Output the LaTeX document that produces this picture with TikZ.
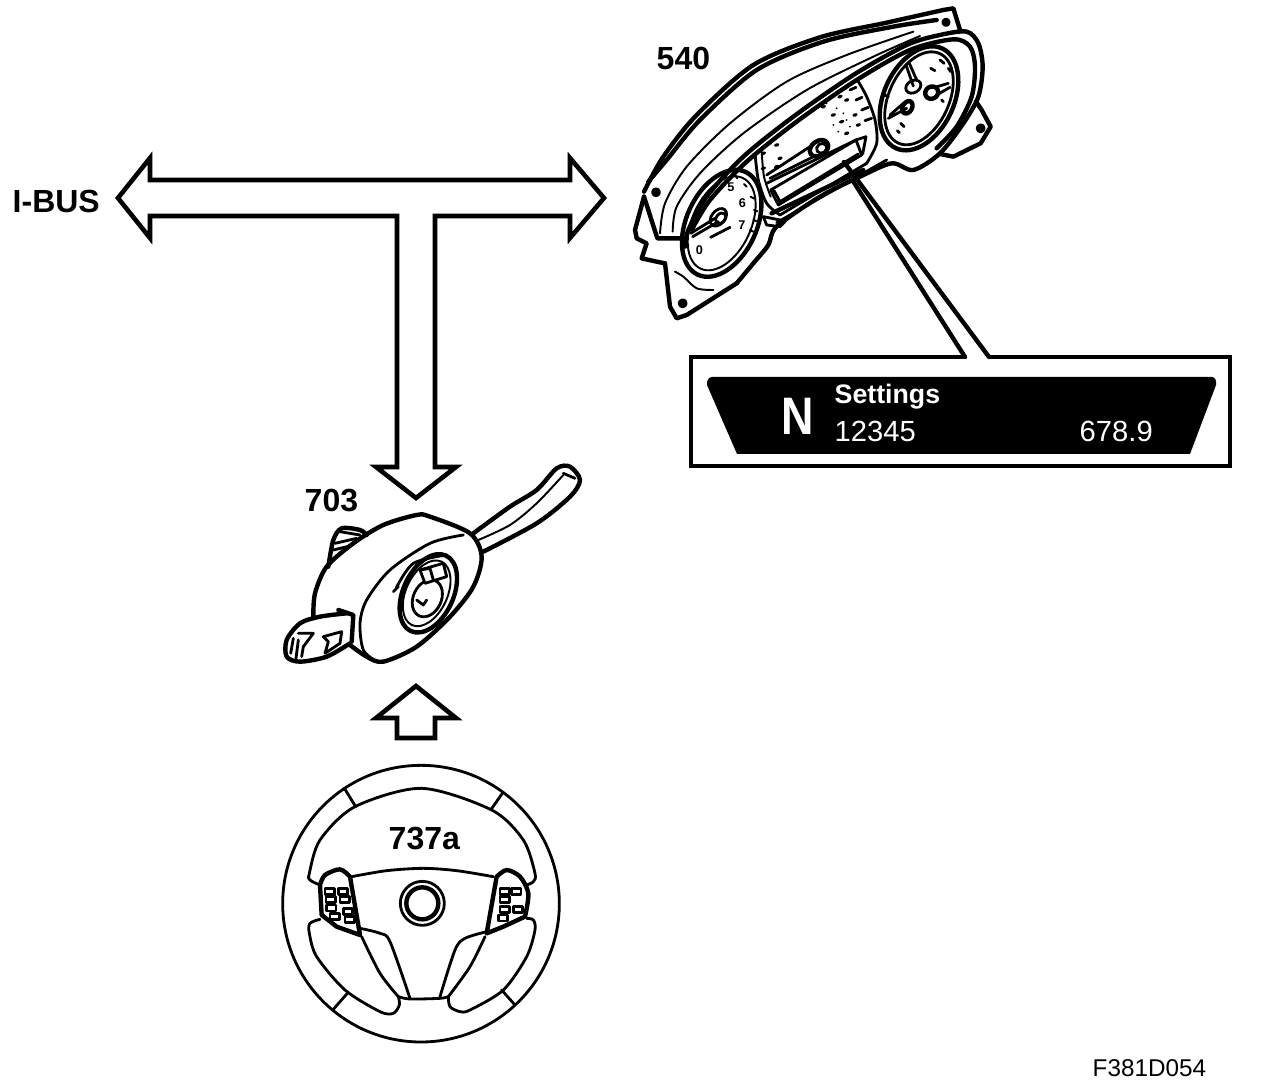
\documentclass[tikz,border=0pt]{standalone}
\usepackage{fontspec}
\setmainfont{Liberation Sans}
\tikzset{
  thk/.style={line width=1.25pt,line join=round,line cap=round},
  med/.style={line width=.8pt,line join=round,line cap=round},
  thn/.style={line width=.55pt,line join=round,line cap=round},
  arrowln/.style={line width=1.3pt,line join=miter},
  partno/.style={font=\fontsize{9.1}{10}\selectfont\bfseries,inner sep=0pt},
  dispno/.style={font=\fontsize{8.3}{9}\selectfont,text=white,inner sep=0pt,anchor=base west},
  dialno/.style={inner sep=0pt,font=\fontsize{3.6}{4}\selectfont\bfseries}
}
\begin{document}
\begin{tikzpicture}[x=.01cm,y=-.01cm]
  \useasboundingbox (0,0) rectangle (1264,1092);
  % bus arrow
  \coordinate (bl) at (118,198);
  \coordinate (blt) at (150,158);
  \coordinate (bls) at (150,180);
  \coordinate (brs) at (570,180);
  \coordinate (brt) at (570,158);
  \coordinate (br) at (604,198);
  \coordinate (brb) at (570,238);
  \coordinate (bri) at (570,216);
  \coordinate (sr) at (435,216);
  \coordinate (srb) at (435,467);
  \coordinate (hr) at (456,467);
  \coordinate (tip) at (416,498);
  \coordinate (hl) at (376,467);
  \coordinate (slb) at (397,467);
  \coordinate (sl) at (397,216);
  \coordinate (bli) at (150,216);
  \coordinate (blb) at (150,238);
  \draw[arrowln] (bl)--(blt)--(bls)--(brs)--(brt)--(br)--(brb)--(bri)--(sr)--(srb)--(hr)--(tip)--(hl)--(slb)--(sl)--(bli)--(blb)--cycle;
  % small arrow
  \coordinate (ut) at (416,686);
  \coordinate (ur) at (456,718);
  \coordinate (urs) at (435,718);
  \coordinate (urb) at (435,738);
  \coordinate (ulb) at (397,738);
  \coordinate (uls) at (397,718);
  \coordinate (ul) at (376,718);
  \draw[arrowln] (ut)--(ur)--(urs)--(urb)--(ulb)--(uls)--(ul)--cycle;
  % labels
  \node[partno,anchor=west] (ibus) at (12,201) {I-BUS};
  \node[partno,anchor=west] (n540) at (656,58) {540};
  \node[partno,anchor=west] (n703) at (304,501) {703};
  \node[partno,anchor=west] (n737) at (388,839) {737a};
  \node[anchor=west,inner sep=0pt,font=\fontsize{6.9}{8}\selectfont] (fig) at (1092,1068) {F381D054};
  % display box
  \coordinate (dt1) at (965,357);
  \coordinate (dt2) at (989,357);
  \coordinate (ctip) at (844,162);
  \draw[thk,line cap=butt,line join=miter] (dt1)--(691,357)--(691,466)--(1230,466)--(1230,357)--(dt2);
  \draw[thk] (dt1)--(853,181);
  \draw[thk] (dt2)--(ctip);
  \fill (712,377)--(1212,377) to[out=0,in=80] (1216,385)--(1190,454)--(737,454)--(707,385) to[out=100,in=180] cycle;
  \node[text=white,inner sep=0pt,anchor=base west,xscale=.85,font=\fontsize{15}{16}\selectfont\bfseries] (gear) at (781,435) {N};
  \node[dispno,font=\fontsize{7.6}{9}\selectfont\bfseries] (menu) at (834,404) {Settings};
  \node[dispno] (odo) at (834,442) {12345};
  \node[dispno] (trip) at (1079,442) {678.9};
  % cluster
  \begin{scope}[shift={(620,0)},scale=1/3]
    \draw[thk] plot[smooth] coordinates {(72,575)(130,470)(230,345)(400,195)(600,112)(800,68)(970,30)} -- (1000,25) -- (1020,90);
    \draw[thk] plot[smooth] coordinates {(85,545)(140,480)(240,360)(410,210)(610,125)(820,80)(950,60)};
    \draw[thn] plot[smooth] coordinates {(120,700)(135,610)(200,500)(330,370)(500,245)(680,165)(880,95)};
    \draw[thn] plot[smooth] coordinates {(158,695)(170,620)(240,520)(370,400)(560,270)(760,170)(900,108)};
    \draw[thk] (72,590)--(112,715)--(192,715);
    \draw[thk] plot[smooth] coordinates {(195,740)(205,690)(260,590)(370,470)(520,350)(700,225)(860,135)(960,105)(1040,95)(1075,130)(1088,200)(1075,290)(1030,370)(960,460)(880,510)(815,490)(720,530)(600,590)(470,680)(445,735)(400,790)(350,850)};
    \draw[thk] plot[smooth] coordinates {(215,690)(270,600)(380,485)(530,365)(710,240)(870,150)(1000,118)(1050,140)(1065,200)(1055,290)(1010,380)(950,445)};
    \draw[thk] (350,850)--(200,945)--(170,955)--(150,920)--(135,790);
    \draw[thk] (72,590)--(45,690)--(50,715)--(80,730)--(65,775)--(110,785)--(135,790);
    \draw[thk] (1068,305)--(1085,330)--(1112,380)--(1082,430)--(1000,470)--(960,462);
    \draw[thn] plot[smooth] coordinates {(165,815)(190,830)(230,865)(280,870)};
    % gauges
    \draw[thk] (305,670) ellipse[x radius=170,y radius=105,rotate=65];
    \draw[thn] (305,670) ellipse[x radius=150,y radius=88,rotate=65];
    \draw[thk] (897,295) ellipse[x radius=165,y radius=105,rotate=65];
    \draw[med] (897,295) ellipse[x radius=148,y radius=90,rotate=65];
    \draw[med] (212,700)--(285,655) (218,710)--(295,665);
    \draw[med] (295,652) ellipse[x radius=30,y radius=20,rotate=50];
    \draw[med] (302,655) ellipse[x radius=18,y radius=13,rotate=50];
    \draw[med] (272,712)--(330,682);
    \node[dialno] (lg0) at (238,750) {0};
    \node[dialno] (lg5) at (333,562) {5};
    \node[dialno] (lg6) at (367,608) {6};
    \node[dialno] (lg7) at (366,675) {7};
    \foreach \xa/\ya/\xb/\yb in {345/525/352/535, 372/552/380/560, 392/590/402/596, 402/630/412/634, 400/660/410/664, 390/690/400/695}
      \draw[thn] (\xa,\ya)--(\xb,\yb);
    \draw[med] (805,355)--(860,325) (810,345)--(850,310);
    \draw[thk] (862,322) ellipse[x radius=20,y radius=14,rotate=60];
    \draw[med] (880,260) ellipse[x radius=24,y radius=18,rotate=30];
    \draw[med] (880,258)--(858,195) (890,240)--(868,190);
    \draw[thk] (935,278) ellipse[x radius=20,y radius=18,rotate=30];
    \draw[med] (945,262)--(985,250) (950,285)--(990,262);
    \foreach \xa/\ya/\xb/\yb in {842/370/852/380, 832/392/838/398, 960/180/972/190, 985/205/992/215, 932/205/945/212, 965/300/970/305, 795/285/805/290}
      \draw[med] (\xa,\ya)--(\xb,\yb);
    % centre dial
    \draw[med] plot[smooth] coordinates {(405,460)(415,540)(440,610)(480,645)};
    \draw[thn] plot[smooth] coordinates {(425,455)(432,530)(452,590)};
    \draw[med] (480,645)--(740,490);
    \draw[med] plot[smooth] coordinates {(740,490)(770,430)(765,360)(740,290)(715,245)};
    \draw[med] (452,570)--(475,615)--(725,465)--(708,420)--cycle;
    \draw[med] (462,572)--(480,605)--(715,462);
    \draw[med] (728,462)--(738,410)--(708,420);
    \draw[med] (440,550)--(708,420);
    \draw[med] (440,525)--(570,440) (450,535)--(590,465);
    \draw[thk] (597,445) ellipse[x radius=30,y radius=22,rotate=35];
    \draw[med] (605,445) ellipse[x radius=16,y radius=14,rotate=35];
    \draw[thk] (455,640)--(730,510);
    \draw[med] (470,668)--(800,480);
    \draw[med] (430,650)--(480,660)--(495,665)--(480,680)--(440,675)--cycle;
    \foreach \xa/\ya/\xb/\yb in {690/270/708/262, 708/300/726/292, 725/330/745/322, 735/362/755/355}
      \draw[med] (\xa,\ya)--(\xb,\yb);
    \foreach \xa/\ya in {470/435, 480/475, 490/395, 470/500, 430/460, 430/505, 610/320, 640/345, 665/365, 680/400, 660/290, 680/300, 705/345, 715/375}
      \fill (\xa,\ya) ellipse[x radius=8,y radius=5,rotate=20];
    \foreach \xa/\ya in {620/310, 650/325, 670/340, 680/360, 690/380, 640/375, 655/395}
      \fill (\xa,\ya) circle[radius=3];
    % screws
    \draw[thk] (108,577) circle[radius=8] (978,67) circle[radius=7] (1082,385) circle[radius=8] (188,910) circle[radius=8];
  \end{scope}
  % switch
  \begin{scope}[shift={(270,460)},scale=1/3]
    \draw[thk] plot[smooth] coordinates {(130,470)(135,400)(170,320)(250,250)(340,195)(440,165)(480,170)(600,220)(635,290)(610,380)(540,470)(440,560)(340,605)(290,590)(240,555)};
    \draw[med] plot[smooth] coordinates {(580,225)(480,250)(360,330)(290,420)(270,490)(280,570)(320,605)};
    \draw[thk] plot[smooth] coordinates {(610,220)(720,140)(800,90)(860,25)(900,20)(930,60)(900,110)(800,190)(640,275)};
    \draw[thn] plot[smooth] coordinates {(625,240)(720,195)(800,130)(880,45)};
    \draw[med] (880,40)--(915,55);
    \draw[thk] plot[smooth] coordinates {(230,460)(150,470)(90,490)(50,540)(50,590)(90,605)(170,590)(240,550)};
    \draw[thk] (205,450)--(250,465)--(245,545);
    \draw[med] (85,520)--(130,520)--(100,560)--(95,590);
    \draw[med] (70,535)--(62,580) (85,540)--(78,595);
    \draw[med] (160,530)--(215,515)--(210,550)--(165,580)--(175,545)--cycle;
    \draw[thk] plot[smooth] coordinates {(175,320)(190,240)(215,205)(270,210)(290,225)};
    \draw[med] (195,250)--(260,235) (190,270)--(240,258) (210,215)--(270,225);
    \draw[thk] (475,400) ellipse[x radius=125,y radius=75,rotate=65];
    \draw[med] (370,395)--(385,380) plot[smooth] coordinates {(378,385)(430,310)(530,285)};
    \draw[thn] (470,400) ellipse[x radius=105,y radius=62,rotate=65];
    \draw[med] (472,415) ellipse[x radius=58,y radius=42,rotate=65];
    \draw[med,fill=white] (450,330)--(520,310)--(530,350)--(465,370)--cycle;
    \draw[med] (450,330)--(480,325)--(490,360);
    \draw[med] (440,420)--(460,435)--(470,420);
  \end{scope}
  % wheel
  \begin{scope}[shift={(270,760)},scale=1/3]
    \draw[med] (453,431) circle[radius=415];
    \draw[med] plot[smooth] coordinates {(150,375)(120,360)(118,340)(150,240)(255,140)(455,85)(665,150)(760,240)(795,340)(790,365)(770,375)};
    \draw[med] plot[smooth] coordinates {(245,350)(350,332)(460,325)(560,332)(670,350)};
    \draw[med] plot[smooth] coordinates {(150,478)(120,490)(118,520)(140,590)(225,690)(330,755)(370,760)(388,735)(385,710)};
    \draw[med] plot[smooth] coordinates {(385,710)(420,717)(510,715)(535,710)};
    \draw[med] plot[smooth] coordinates {(535,710)(540,740)(570,755)(600,750)(700,690)(770,590)(795,510)(790,480)(770,475)};
    \draw[med] plot[smooth] coordinates {(270,505)(330,520)(360,545)(420,715)};
    \draw[med] plot[smooth] coordinates {(275,530)(330,640)(385,710)};
    \draw[med] plot[smooth] coordinates {(650,515)(585,535)(555,570)(510,710)};
    \draw[med] plot[smooth] coordinates {(645,530)(600,620)(535,710)};
    \draw[med] (225,88)--(257,140) (697,100)--(662,150) (232,700)--(190,748) (695,690)--(735,735);
    \draw[med] (457,430) circle[radius=66];
    \draw[thk] (457,430) circle[radius=48];
    \draw[thk,fill=white] plot[smooth] coordinates {(150,375)(165,345)(210,328)(240,350)} -- (270,525) -- (200,500) -- (155,465) -- cycle;
    \draw[thk,fill=white] plot[smooth] coordinates {(680,350)(710,330)(750,350)(775,400)(765,470)} -- (700,500) -- (650,520) -- cycle;
    \foreach \xa/\ya in {165/385, 205/385, 168/410, 210/410, 170/435, 220/445, 180/460, 225/470, 690/385, 725/385, 690/410, 690/440, 685/465, 730/440}
      \draw[med,fill=white] (\xa,\ya) rectangle +(28,18);
  \end{scope}
\end{tikzpicture}
\end{document}
